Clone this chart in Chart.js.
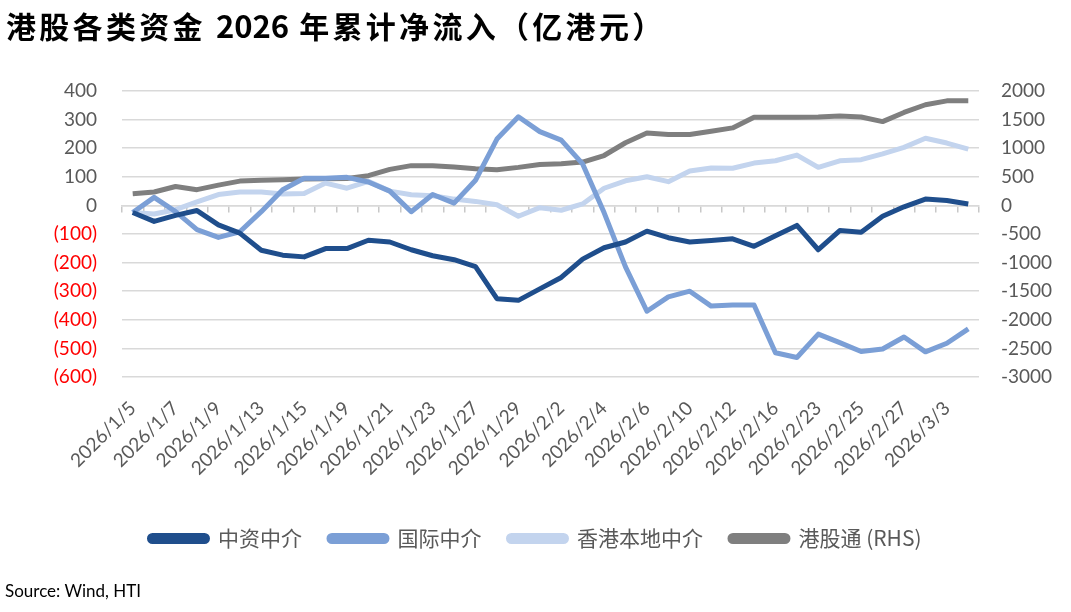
<!DOCTYPE html>
<html>
<head>
<meta charset="utf-8">
<script src="https://cdn.jsdelivr.net/npm/chart.js@4.4.1/dist/chart.umd.min.js"></script>
<style>
  body { margin: 0; background: #fff; }
  #wrap { position: relative; width: 1071px; height: 612px; }
  #title { position: absolute; left: 6px; top: 2px; font: bold 30px "Noto Sans CJK SC"; letter-spacing: 3.3px; color: #000; }
  #title span { letter-spacing: 0; font-size: 31px; }
  #source { position: absolute; left: 5px; top: 580px; font: 17px Lato; color: #000; }
  canvas { position: absolute; left: 0; top: 0; }
</style>
</head>
<body>
<div id="wrap">
  <canvas id="chart" width="1071" height="612"></canvas>
  <div id="title">港股各类资金 <span>2026</span> 年累计净流入（亿港元）</div>
  <div id="source">Source: Wind, HTI</div>
</div>
<script>
// trading days, labels shown every other day
const dates = ["2026/1/5","2026/1/6","2026/1/7","2026/1/8","2026/1/9","2026/1/12","2026/1/13","2026/1/14",
  "2026/1/15","2026/1/16","2026/1/19","2026/1/20","2026/1/21","2026/1/22","2026/1/23","2026/1/26",
  "2026/1/27","2026/1/28","2026/1/29","2026/1/30","2026/2/2","2026/2/3","2026/2/4","2026/2/5",
  "2026/2/6","2026/2/9","2026/2/10","2026/2/11","2026/2/12","2026/2/13","2026/2/16","2026/2/20",
  "2026/2/23","2026/2/24","2026/2/25","2026/2/26","2026/2/27","2026/3/2","2026/3/3","2026/3/4"];

// left axis, 亿港元
const cnBroker = [-25,-56,-35,-18,-68,-97,-157,-174,-180,-151,-151,-122,-128,-155,-176,-190,-214,-326,-332,-292,
  -252,-188,-148,-128,-90,-113,-128,-123,-117,-143,-106,-70,-155,-88,-94,-38,-5,22,17,5];
const intlBroker = [-25,28,-22,-85,-112,-92,-22,55,95,95,98,82,50,-22,38,8,88,232,310,258,
  228,145,-25,-215,-370,-320,-300,-352,-348,-348,-515,-532,-450,-480,-511,-502,-460,-512,-482,-432];
const hkLocal = [-25,-30,-15,12,38,47,47,40,42,78,60,84,50,37,34,22,14,2,-38,-8,
  -17,5,60,86,100,83,120,131,130,148,156,176,133,156,160,180,203,235,218,197];
// right axis
const southbound = [205,235,330,275,355,425,440,450,460,465,470,520,630,695,695,670,640,625,665,715,
  728,758,872,1095,1265,1240,1240,1295,1355,1540,1540,1540,1545,1565,1545,1465,1625,1760,1828,1828];

const leftRange = [-600, 400, 100];
const rightRange = [-3000, 2000, 500];

const seriesNames = ["中资中介", "国际中介", "香港本地中介", "港股通 (RHS)"];
const colors = ["#1f4e8c", "#7b9fd6", "#c3d4ee", "#7f7f7f"];

const tickFont = { family: "Lato", size: 19 };
const gray = "#595959";

const mkLine = (i, data, axis) => ({
  label: seriesNames[i],
  data: data,
  yAxisID: axis,
  borderColor: colors[i],
  backgroundColor: colors[i],
  borderWidth: 5,
  pointRadius: 0,
  tension: 0,
  borderJoinStyle: "round"
});

new Chart(document.getElementById("chart"), {
  type: "line",
  data: {
    labels: dates,
    datasets: [
      mkLine(0, cnBroker, "y"),
      mkLine(1, intlBroker, "y"),
      mkLine(2, hkLocal, "y"),
      mkLine(3, southbound, "y1")
    ]
  },
  options: {
    responsive: false,
    animation: false,
    layout: { padding: { top: 91, bottom: 53, left: 0, right: 0 } },
    plugins: {
      tooltip: { enabled: false },
      legend: {
        position: "bottom",
        labels: {
          boxWidth: 58,
          boxHeight: 6,
          padding: 27,
          useBorderRadius: true,
          borderRadius: 3,
          color: gray,
          font: { family: "Noto Sans CJK SC", size: 21 }
        }
      }
    },
    scales: {
      x: {
        offset: true,
        grid: { display: false },
        border: { display: false },
        ticks: {
          autoSkip: false,
          maxRotation: 45,
          minRotation: 45,
          padding: 12,
          color: gray,
          font: { family: "Lato", size: 19 },
          callback: function(v, i) { return i % 2 === 0 ? this.getLabelForValue(v) : null; }
        },
        afterFit: s => { s.height = 124; }
      },
      xZero: {
        type: "category",
        position: { y: 0 },
        offset: true,
        grid: { offset: true, drawOnChartArea: false, drawTicks: true, tickLength: 6, color: "#c8c8c8", lineWidth: 1.5 },
        border: { display: true, color: "#d9d9d9", width: 1.5 },
        ticks: { display: false }
      },
      y: {
        position: "left",
        min: leftRange[0],
        max: leftRange[1],
        grid: { color: "#d9d9d9", lineWidth: 1.5, drawTicks: false },
        border: { display: false },
        ticks: {
          stepSize: leftRange[2],
          padding: 25,
          font: tickFont,
          color: ctx => ctx.tick.value < 0 ? "#ff0000" : gray,
          callback: v => v < 0 ? "(" + (-v) + ")" : String(v)
        },
        afterFit: s => { s.width = 122; }
      },
      y1: {
        position: "right",
        min: rightRange[0],
        max: rightRange[1],
        grid: { drawOnChartArea: false, drawTicks: false },
        border: { display: false },
        ticks: { stepSize: rightRange[2], padding: 22, font: tickFont, color: gray, callback: v => String(v) },
        afterFit: s => { s.width = 92; }
      }
    }
  }
});
</script>
</body>
</html>
